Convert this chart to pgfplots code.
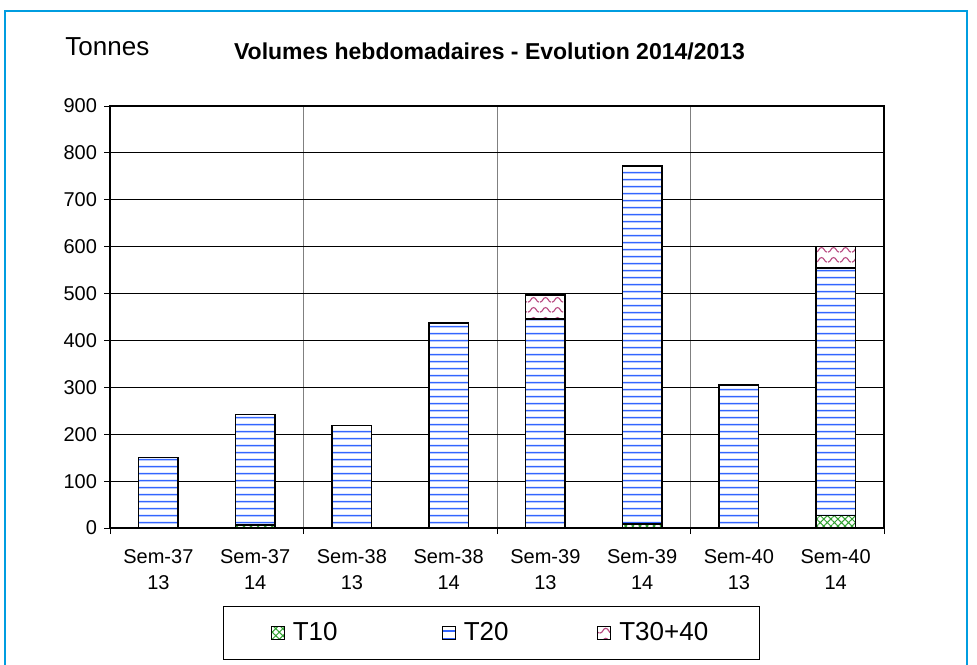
\documentclass[border=0pt]{standalone}
\usepackage{fontspec}
\setmainfont{Liberation Sans}
\usepackage{pgfplots}
\pgfplotsset{compat=1.18}
\usetikzlibrary{patterns.meta}
\definecolor{frameblue}{RGB}{0,157,224}
\definecolor{tgreen}{RGB}{50,160,50}
\definecolor{tblue}{RGB}{51,102,255}
\definecolor{tpink}{RGB}{185,75,130}
\pgfdeclarepattern{
  name=wavy, type=uncolored,
  bottom left={\pgfpoint{0pt}{0pt}}, top right={\pgfpoint{6pt}{5pt}},
  tile size={\pgfpoint{6pt}{5pt}},
  code={
    \pgfsetlinewidth{0.6pt}
    \pgfpathmoveto{\pgfpoint{0pt}{1pt}}
    \pgfpathcurveto{\pgfpoint{1.5pt}{1pt}}{\pgfpoint{1.5pt}{3.5pt}}{\pgfpoint{3pt}{3.5pt}}
    \pgfpathcurveto{\pgfpoint{4.5pt}{3.5pt}}{\pgfpoint{4.5pt}{1pt}}{\pgfpoint{6pt}{1pt}}
    \pgfusepath{stroke}
  }
}
\pgfdeclarepattern{
  name=hlines, type=uncolored,
  bottom left={\pgfpoint{0pt}{0pt}}, top right={\pgfpoint{40pt}{3.65pt}},
  tile size={\pgfpoint{40pt}{3.65pt}},
  code={
    \pgfsetlinewidth{0.8pt}
    \pgfpathmoveto{\pgfpoint{-1pt}{1.8pt}}
    \pgfpathlineto{\pgfpoint{41pt}{1.8pt}}
    \pgfusepath{stroke}
  }
}
\begin{document}
\begin{tikzpicture}
\path[use as bounding box] (0,0) rectangle (488.5pt,332pt);
\draw[frameblue, line width=1pt] (2.5pt,-5pt) -- (2.5pt,326.5pt) -- (483.5pt,326.5pt) -- (483.5pt,-5pt);
\node[anchor=base west, font=\fontsize{13}{15}\selectfont, inner sep=0pt] at (32.5pt,304pt) {Tonnes};
\node[anchor=base, font=\bfseries\fontsize{11.5}{13}\selectfont, inner sep=0pt] at (244.75pt,302pt) {Volumes hebdomadaires - Evolution 2014/2013};
\begin{axis}[
  at={(55pt,68pt)}, anchor=south west,
  scale only axis, width=387pt, height=211pt,
  ybar stacked, bar width=0.41,
  xmin=-0.5, xmax=7.5, ymin=0, ymax=900,
  ytick={0,100,...,900},
  xtick={-0.5,1.5,3.5,5.5,7.5}, xticklabels={},
  extra x ticks={0,1,2,3,4,5,6,7},
  extra x tick labels={{Sem-37\\13},{Sem-37\\14},{Sem-38\\13},{Sem-38\\14},{Sem-39\\13},{Sem-39\\14},{Sem-40\\13},{Sem-40\\14}},
  extra x tick style={major tick length=0pt, grid=none},
  xticklabel style={align=center, font=\fontsize{10}{13}\selectfont, yshift=-7pt},
  yticklabel style={font=\fontsize{10}{12}\selectfont},
  /pgf/number format/assume math mode=true,
  tick align=outside, tick pos=left, major tick length=3pt,
  tick style={black, line width=0.5pt},
  xmajorgrids, ymajorgrids,
  x grid style={gray, line width=0.5pt},
  y grid style={black, line width=0.4pt},
  axis line style={black, line width=0.9pt},
  legend columns=3,
  legend style={at={(axis description cs:0.146,-0.185)}, anchor=north west, draw=black, line width=0.6pt,
    font=\fontsize{13}{15}\selectfont, inner xsep=23.5pt, inner ysep=6pt,
    /tikz/every odd column/.append style={column sep=2pt},
    /tikz/column 2/.append style={column sep=50pt},
    /tikz/column 4/.append style={column sep=42.25pt}},
  legend image code/.code={\draw[#1,/tikz/.cd,draw=black,line width=0.6pt] (0pt,-3.25pt) rectangle (6.5pt,3.25pt);},
]
\addplot[fill=white, draw=black, line width=0.75pt,
  postaction={pattern={Hatch[angle=45,distance=2.5pt,line width=0.5pt]}, pattern color=tgreen}]
  coordinates {(0,0) (1,6) (2,0) (3,0) (4,0) (5,9) (6,0) (7,27)};
\addlegendentry{T10}
\addplot[fill=white, draw=black, line width=0.75pt,
  postaction={pattern=hlines, pattern color=tblue}]
  coordinates {(0,150) (1,236) (2,219) (3,437) (4,446) (5,763) (6,305) (7,528)};
\addlegendentry{T20}
\addplot[fill=white, draw=black, line width=0.75pt,
  postaction={pattern=wavy, pattern color=tpink}]
  coordinates {(0,0) (1,0) (2,0) (3,0) (4,51) (5,0) (6,0) (7,45)};
\addlegendentry{T30+40\hspace{6pt}}
\end{axis}
\end{tikzpicture}
\end{document}
